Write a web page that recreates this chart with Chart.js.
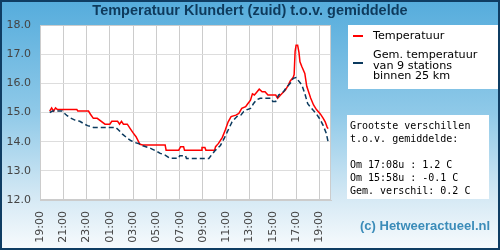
<!DOCTYPE html>
<html>
<head>
<meta charset="utf-8">
<script src="https://cdn.jsdelivr.net/npm/chart.js@4"></script>
<style>
  html, body { margin: 0; padding: 0; }
  #wrap { position: relative; width: 500px; height: 250px; overflow: hidden;
    background: linear-gradient(to bottom, #55acdc 0%, #8fc9e8 45%, #d3e8f4 78%, #f8fbfd 100%); }
  #wrap canvas { position: absolute; left: 0; top: 0; }
  #title { position: absolute; left: 0; top: 3px; width: 500px; text-align: center;
    font: bold 14.5px "Liberation Sans", Arial, sans-serif; line-height: 15px; color: #0e3a5c; }
  .box { position: absolute; background: #fff; }
  .txt { position: absolute; font-family: "DejaVu Sans", sans-serif; font-size: 11.2px; color: #000; white-space: nowrap; }
  .mk { position: absolute; width: 10px; height: 2px; }
  #info { position: absolute; left: 350px; top: 119px; margin: 0;
    font: 10px "DejaVu Sans Mono", monospace; line-height: 13px; color: #000; white-space: pre; }
  #wm { position: absolute; left: 360px; top: 219px; font: bold 13px "Liberation Sans", Arial, sans-serif;
    line-height: 13px; color: #3b8cb9; white-space: nowrap; }
  #frame { position: absolute; left: 0; top: 0; width: 500px; height: 250px; box-sizing: border-box;
    border: 2px solid #0f3d63; pointer-events: none; }
</style>
</head>
<body>
<div id="wrap">
  <canvas id="c" width="500" height="250"></canvas>
  <div id="title">Temperatuur Klundert (zuid) t.o.v. gemiddelde</div>
  <div class="box" style="left:348px;top:25px;width:150px;height:64px;"></div>
  <div class="mk" style="left:353px;top:35px;background:#ff0000;"></div>
  <div class="txt" style="left:373px;top:29.5px;line-height:12px;">Temperatuur</div>
  <div class="mk" style="left:353px;top:62px;background:#0b3a5e;"></div>
  <div class="txt" style="left:373px;top:50px;line-height:10.6px;">Gem. temperatuur<br>van 9 stations<br>binnen 25 km</div>
  <div class="box" style="left:347px;top:115px;width:142px;height:84px;"></div>
  <pre id="info">Grootste verschillen
t.o.v. gemiddelde:

Om 17:08u : 1.2 C
Om 15:58u : -0.1 C
Gem. verschil: 0.2 C</pre>
  <div id="wm">(c) Hetweeractueel.nl</div>
  <div id="frame"></div>
</div>
<script>
// ---- data ----
const tempTimes = ["19:50","20:00","20:10","20:20","20:30","22:10","22:15","23:10","23:20","23:35","23:55","00:35","01:00","01:10","01:40","01:50","02:00","02:10","02:30","02:45","03:00","03:15","03:35","03:50","05:45","05:50","06:55","07:05","07:20","07:25","08:50","08:55","09:10","09:15","10:00","10:05","10:20","10:40","10:55","11:10","11:25","11:50","12:05","12:20","12:40","12:50","13:05","13:15","13:25","13:35","13:50","14:05","14:20","14:35","15:15","15:25","15:40","16:05","16:20","16:30","16:45","16:50","16:55","17:00","17:08","17:15","17:20","17:30","17:45","17:55","18:15","18:30","18:45","19:05","19:20","19:30","19:40","19:45"];
const tempValues = [15.05,15.16,15.05,15.16,15.1,15.1,15.05,15.05,14.94,14.8,14.8,14.6,14.6,14.7,14.7,14.6,14.7,14.6,14.6,14.45,14.3,14.17,13.91,13.89,13.89,13.71,13.71,13.83,13.83,13.71,13.71,13.8,13.8,13.71,13.71,13.83,13.94,14.15,14.4,14.68,14.86,14.91,14.97,15.14,15.2,15.29,15.42,15.64,15.6,15.68,15.8,15.71,15.71,15.6,15.6,15.49,15.6,15.77,15.94,16.08,16.2,16.3,17.1,17.31,17.31,17.05,16.74,16.57,16.34,15.9,15.5,15.26,15.1,14.95,14.8,14.68,14.5,14.45];

const avgTimes = ["19:50","20:05","20:55","21:10","21:20","21:35","22:00","22:25","22:50","23:05","23:35","01:30","01:45","02:05","02:30","02:50","03:10","03:35","03:50","04:30","04:55","05:20","05:45","06:10","06:55","07:00","07:30","07:35","09:30","09:40","10:05","10:30","10:50","11:10","11:30","11:55","12:15","12:30","12:45","13:05","13:20","13:35","13:55","14:50","15:00","15:15","15:30","15:55","16:10","16:30","16:45","17:00","17:10","17:30","17:45","18:00","18:25","18:45","19:05","19:20","19:35","19:45"];
const avgValues = [15.0,15.05,15.05,14.95,14.89,14.82,14.74,14.7,14.6,14.55,14.49,14.49,14.4,14.26,14.12,14.03,13.97,13.92,13.86,13.77,13.69,13.6,13.54,13.43,13.43,13.52,13.52,13.42,13.42,13.51,13.71,13.87,14.12,14.4,14.68,14.86,14.91,15.03,15.09,15.14,15.3,15.43,15.49,15.49,15.38,15.38,15.6,15.71,15.86,16.0,16.17,16.2,16.11,15.94,15.65,15.3,15.1,14.95,14.75,14.55,14.3,14.0];

const startHour = 19;            // x axis starts at 19:00
const xMaxHours = 25;            // ... and ends at 20:00 next day
const yTicks = [12, 13, 14, 15, 16, 17, 18];

function toPoints(times, values) {
  const pts = [];
  let prev = -1;
  times.forEach((t, i) => {
    const [H, M] = t.split(':').map(Number);
    let h = ((H - startHour + 24) % 24) + M / 60;
    if (h < prev) h += 24;
    prev = h;
    pts.push({ x: h, y: values[i] });
  });
  return pts;
}

const plotBg = {
  id: 'plotBg',
  beforeDraw(chart) {
    const { ctx, chartArea: a } = chart;
    ctx.save();
    ctx.fillStyle = '#ffffff';
    ctx.fillRect(a.left, a.top, a.right - a.left, a.bottom - a.top);
    ctx.restore();
  },
  afterDatasetsDraw(chart) {
    const { ctx, chartArea: a } = chart;
    ctx.save();
    ctx.strokeStyle = '#cccccc';
    ctx.lineWidth = 1;
    ctx.strokeRect(a.left + 0.5, a.top + 0.5, a.right - a.left - 1, a.bottom - a.top - 1);
    ctx.restore();
  }
};

new Chart(document.getElementById('c'), {
  type: 'line',
  data: {
    datasets: [
      { label: 'Gem. temperatuur', data: toPoints(avgTimes, avgValues), borderColor: '#0b3a5e',
        borderWidth: 1.5, borderDash: [5, 3], pointRadius: 0, tension: 0, fill: false },
      { label: 'Temperatuur', data: toPoints(tempTimes, tempValues), borderColor: '#ff0000',
        borderWidth: 1.5, pointRadius: 0, tension: 0, fill: false }
    ]
  },
  options: {
    responsive: false,
    animation: false,
    events: [],
    layout: { padding: { top: 25, right: 169, left: 0, bottom: 0 } },
    plugins: { legend: { display: false }, title: { display: false }, tooltip: { enabled: false } },
    scales: {
      x: {
        type: 'linear', min: 0, max: xMaxHours,
        afterFit(s) { s.height = 50; },
        grid: { color: '#cccccc', lineWidth: 1, drawTicks: false },
        border: { color: '#cccccc' },
        ticks: {
          stepSize: 2, includeBounds: false, autoSkip: false,
          minRotation: 90, maxRotation: 90, padding: 11,
          color: '#444444', font: { family: 'DejaVu Sans', size: 11 },
          callback: v => String((startHour + v) % 24).padStart(2, '0') + ':00'
        }
      },
      y: {
        min: yTicks[0], max: yTicks[yTicks.length - 1],
        afterFit(s) { s.width = 40; },
        afterBuildTicks(s) { s.ticks = yTicks.map(v => ({ value: v })); },
        grid: { color: '#dddddd', lineWidth: 1, drawTicks: false },
        border: { color: '#cccccc' },
        ticks: {
          padding: 9, color: '#444444', font: { family: 'DejaVu Sans', size: 11 },
          callback: v => Number(v).toFixed(1)
        }
      }
    }
  },
  plugins: [plotBg]
});
</script>
</body>
</html>
